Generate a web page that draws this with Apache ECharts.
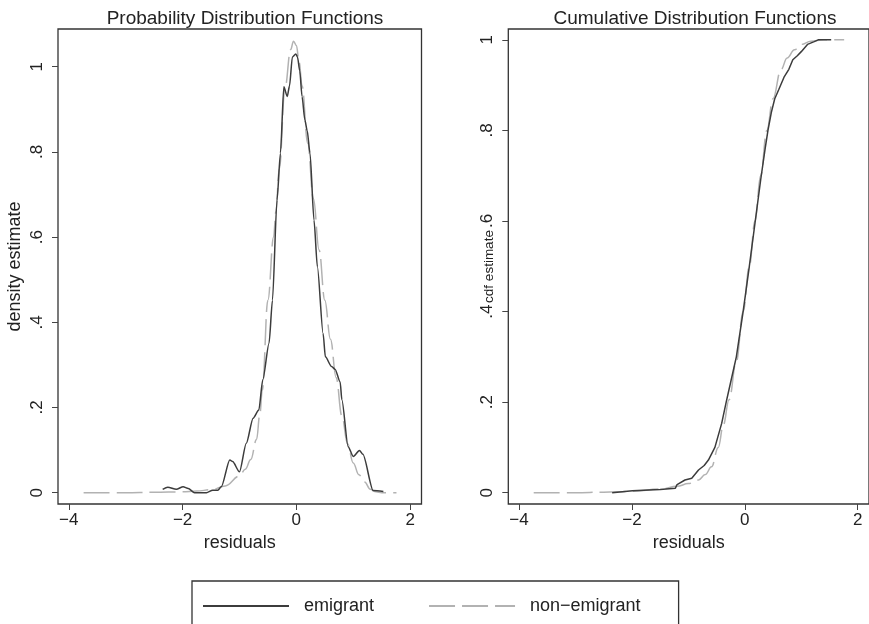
<!DOCTYPE html>
<html><head><meta charset="utf-8">
<script src="https://cdn.jsdelivr.net/npm/echarts@6/dist/echarts.min.js"></script>
<style>html,body{margin:0;padding:0;background:#fff}#c{width:869px;height:624px}</style>
</head><body><div id="c"></div>
<script>
// ---- data ----
const seriesNames = ['emigrant', 'non\u2212emigrant'];
const panelTitles = ['Probability Distribution Functions', 'Cumulative Distribution Functions'];
const yNames = ['density estimate', 'cdf estimate'];
const xName = 'residuals';

const xTickVals = [-4, -2, 0, 2];
const xTickLabels = ['\u22124', '\u22122', '0', '2'];
const yTickVals = [0, 0.2, 0.4, 0.6, 0.8, 1];
const yTickLabels = ['0', '.2', '.4', '.6', '.8', '1'];

// PDF, emigrant
const pdfEmiX = [-2.35, -2.26, -2.11, -1.99, -1.90, -1.79, -1.58, -1.47, -1.38, -1.32, -1.17, -1.12, -1.00, -0.88, -0.76, -0.66, -0.59, -0.48, -0.42, -0.34, -0.28, -0.22, -0.16, -0.12, -0.07, -0.01, 0.02, 0.06, 0.10, 0.15, 0.19, 0.24, 0.31, 0.37, 0.47, 0.51, 0.62, 0.68, 0.77, 0.80, 0.91, 1.00, 1.11, 1.17, 1.35, 1.53];
const pdfEmiY = [0.008, 0.013, 0.008, 0.014, 0.010, 0.000, 0.000, 0.006, 0.006, 0.014, 0.077, 0.073, 0.049, 0.116, 0.175, 0.194, 0.265, 0.351, 0.452, 0.687, 0.797, 0.953, 0.930, 0.955, 1.023, 1.030, 1.023, 0.990, 0.930, 0.875, 0.850, 0.797, 0.640, 0.530, 0.374, 0.319, 0.296, 0.290, 0.260, 0.218, 0.108, 0.085, 0.099, 0.090, 0.005, 0.003];
// PDF, non-emigrant
const pdfNonX = [-3.74, -3.0, -2.5, -2.0, -1.75, -1.5, -1.25, -1.0, -0.9, -0.8, -0.7, -0.64, -0.6, -0.5, -0.4, -0.36, -0.3, -0.2, -0.1, -0.05, 0.0, 0.05, 0.1, 0.2, 0.3, 0.4, 0.5, 0.6, 0.7, 0.8, 0.9, 1.0, 1.1, 1.2, 1.3, 1.4, 1.5, 1.76];
const pdfNonY = [0.000, 0.000, 0.001, 0.002, 0.004, 0.007, 0.016, 0.039, 0.055, 0.078, 0.125, 0.186, 0.240, 0.452, 0.600, 0.660, 0.760, 0.950, 1.040, 1.060, 1.050, 1.010, 0.955, 0.820, 0.690, 0.570, 0.452, 0.360, 0.270, 0.180, 0.115, 0.070, 0.042, 0.025, 0.008, 0.002, 0.000, 0.000];
// CDF, emigrant
const cdfEmiX = [-2.35, -1.99, -1.5, -1.23, -1.2, -1.17, -1.06, -0.94, -0.82, -0.72, -0.645, -0.53, -0.41, -0.33, -0.24, -0.15, -0.03, 0.08, 0.18, 0.28, 0.36, 0.41, 0.47, 0.53, 0.60, 0.70, 0.78, 0.85, 0.93, 1.0, 1.11, 1.23, 1.30, 1.53];
const cdfEmiY = [0.000, 0.004, 0.007, 0.010, 0.018, 0.021, 0.028, 0.032, 0.050, 0.060, 0.072, 0.100, 0.153, 0.200, 0.250, 0.300, 0.400, 0.500, 0.595, 0.690, 0.760, 0.800, 0.840, 0.870, 0.890, 0.919, 0.935, 0.956, 0.965, 0.974, 0.990, 0.996, 1.000, 1.000];
// CDF, non-emigrant
const cdfNonX = [-3.74, -3.0, -2.5, -2.0, -1.5, -1.2, -1.0, -0.82, -0.7, -0.59, -0.47, -0.38, -0.28, -0.15, -0.03, 0.08, 0.18, 0.28, 0.39, 0.5, 0.64, 0.75, 0.88, 1.0, 1.17, 1.4, 1.76];
const cdfNonY = [0.000, 0.000, 0.001, 0.003, 0.008, 0.014, 0.020, 0.028, 0.040, 0.057, 0.100, 0.150, 0.205, 0.290, 0.400, 0.500, 0.600, 0.700, 0.800, 0.870, 0.934, 0.960, 0.978, 0.990, 0.997, 1.000, 1.000];

// ---- chart ----
const pairs = (xs, ys) => xs.map((x, i) => [x, ys[i]]);
const pick = (vals, labels) => v => { const i = vals.findIndex(t => Math.abs(t - v) < 1e-9); return i >= 0 ? labels[i] : ''; };

const FONT = '"Liberation Sans", Arial, Helvetica, sans-serif';
const TXT = '#222';
const FRAME = '#333';
const EMI = '#3c3c3c';
const NON = '#b2b2b2';

function xAxisCfg(gi) {
  return {
    type: 'value', gridIndex: gi, min: -4.19, max: 2.2,
    name: xName, nameLocation: 'middle', nameGap: 28,
    nameTextStyle: { fontSize: 18, color: TXT, fontFamily: FONT },
    axisLine: { show: false, onZero: false },
    axisTick: { show: true, length: 6, lineStyle: { color: '#444', width: 1 }, customValues: xTickVals },
    axisLabel: { show: true, margin: 8, fontSize: 17, color: TXT, fontFamily: FONT, customValues: xTickVals, formatter: pick(xTickVals, xTickLabels) },
    splitLine: { show: false }
  };
}
function yAxisCfg(gi, min, max, gap, moveOverlap, nameSize) {
  return {
    type: 'value', gridIndex: gi, min: min, max: max, position: 'left',
    name: yNames[gi], nameLocation: 'middle', nameGap: gap, nameRotate: 90,
    nameMoveOverlap: moveOverlap,
    nameTextStyle: { fontSize: nameSize, color: TXT, fontFamily: FONT },
    axisLine: { show: false, onZero: false },
    axisTick: { show: true, length: 6, lineStyle: { color: '#444', width: 1 }, customValues: yTickVals },
    axisLabel: { show: true, rotate: 90, margin: 12, fontSize: 17, color: TXT, fontFamily: FONT, customValues: yTickVals, formatter: pick(yTickVals, yTickLabels) },
    splitLine: { show: false }
  };
}

const emiStyle = { color: EMI, width: 1.5, type: 'solid' };
const nonStyle = { color: NON, width: 1.5, type: [26, 7] };

const option = {
  animation: false,
  backgroundColor: '#fff',
  textStyle: { fontFamily: FONT },
  title: [
    { text: panelTitles[0], left: 240, top: 4, textAlign: 'center', textStyle: { fontSize: 19, fontWeight: 'normal', color: TXT, fontFamily: FONT } },
    { text: panelTitles[1], left: 690, top: 4, textAlign: 'center', textStyle: { fontSize: 19, fontWeight: 'normal', color: TXT, fontFamily: FONT } }
  ],
  grid: [
    { left: 58, top: 29, width: 363.5, height: 475, show: true, borderColor: FRAME, borderWidth: 1.3, backgroundColor: 'transparent', containLabel: false },
    { left: 508.3, top: 29, right: -3, height: 475, show: true, borderColor: FRAME, borderWidth: 1.3, backgroundColor: 'transparent', containLabel: false }
  ],
  xAxis: [xAxisCfg(0), xAxisCfg(1)],
  yAxis: [yAxisCfg(0, -0.0265, 1.0885, 34, true, 18), yAxisCfg(1, -0.025, 1.024, 12, false, 13.5)],
  legend: {
    data: seriesNames,
    left: 192, top: 581, orient: 'horizontal',
    itemWidth: 86, itemHeight: 14, itemGap: 54,
    padding: [16, 38, 20, 10],
    borderColor: FRAME, borderWidth: 1.3,
    itemStyle: { opacity: 0, borderWidth: 0 },
    textStyle: { fontSize: 18, color: TXT, fontFamily: FONT, padding: [0, 0, 0, 10] },
    selectedMode: false
  },
  series: [
    { name: seriesNames[1], type: 'line', xAxisIndex: 0, yAxisIndex: 0, data: pairs(pdfNonX, pdfNonY), showSymbol: false, symbol: 'none', smooth: 0.4, smoothMonotone: 'x', lineStyle: nonStyle, itemStyle: { color: NON }, z: 2 },
    { name: seriesNames[0], type: 'line', xAxisIndex: 0, yAxisIndex: 0, data: pairs(pdfEmiX, pdfEmiY), showSymbol: false, symbol: 'none', smooth: 0.25, smoothMonotone: 'x', lineStyle: emiStyle, itemStyle: { color: EMI }, z: 3 },
    { name: seriesNames[1], type: 'line', xAxisIndex: 1, yAxisIndex: 1, data: pairs(cdfNonX, cdfNonY), showSymbol: false, symbol: 'none', smooth: 0.4, smoothMonotone: 'x', lineStyle: nonStyle, itemStyle: { color: NON }, z: 2 },
    { name: seriesNames[0], type: 'line', xAxisIndex: 1, yAxisIndex: 1, data: pairs(cdfEmiX, cdfEmiY), showSymbol: false, symbol: 'none', smooth: false, lineStyle: emiStyle, itemStyle: { color: EMI }, z: 3 }
  ]
};

const chart = echarts.init(document.getElementById('c'), null, { renderer: 'canvas' });
chart.setOption(option);
</script>
</body></html>
